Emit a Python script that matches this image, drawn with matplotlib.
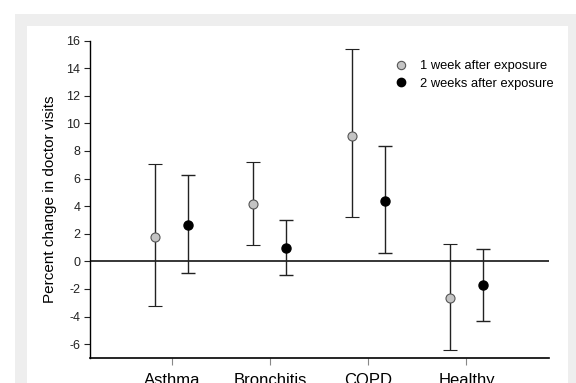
import numpy as np
import matplotlib.pyplot as plt
from matplotlib.patches import Rectangle
from matplotlib.lines import Line2D

plt.rcParams['font.family'] = ['Liberation Sans', 'DejaVu Sans']

# Data
categories = ['Asthma', 'Bronchitis', 'COPD', 'Healthy']
week1_est = [1.8, 4.18, 9.1, -2.68]
week1_lo = [-3.26, 1.16, 3.21, -6.45]
week1_hi = [7.05, 7.22, 15.39, 1.26]
week2_est = [2.66, 0.99, 4.4, -1.74]
week2_lo = [-0.85, -1.01, 0.63, -4.35]
week2_hi = [6.26, 3.0, 8.36, 0.92]
yticks = [-6, -4, -2, 0, 2, 4, 6, 8, 10, 12, 14, 16]

x = np.arange(1, len(categories) + 1)
off = 0.168

fig = plt.figure(figsize=(5.76, 3.83), dpi=100)
fig.patches.append(Rectangle((15/576, 0), 1, 1 - 14/383, transform=fig.transFigure,
                             facecolor='#eeeeee', edgecolor='none', zorder=-2))
fig.patches.append(Rectangle((27/576, 0), (568-27)/576, 1 - 26/383, transform=fig.transFigure,
                             facecolor='white', edgecolor='none', zorder=-1))

ax = fig.add_axes([90/576, 1 - 358/383, (549-90)/576, (358-40.5)/383])
ax.patch.set_visible(False)

ax.axhline(0, color='black', lw=1.1, zorder=1)

e1 = np.array(week1_est)
e2 = np.array(week2_est)
err1 = [e1 - np.array(week1_lo), np.array(week1_hi) - e1]
err2 = [e2 - np.array(week2_lo), np.array(week2_hi) - e2]

ax.errorbar(x - off, e1, yerr=err1, fmt='o', color='#222222', ecolor='#222222',
            elinewidth=1.0, capsize=5, capthick=1.0, markersize=6.5,
            markerfacecolor='#c4c4c4', markeredgecolor='#555555', markeredgewidth=0.8, zorder=3)
ax.errorbar(x + off, e2, yerr=err2, fmt='o', color='#222222', ecolor='#222222',
            elinewidth=1.0, capsize=5, capthick=1.0, markersize=6.5,
            markerfacecolor='black', markeredgecolor='black', zorder=3)

ax.set_xlim(0.168, 4.84)
ax.set_ylim(-7, 16)
ax.set_yticks(yticks)
ax.set_yticklabels([str(t) for t in yticks], fontsize=9)
ax.set_xticks(x)
ax.set_xticklabels(categories, fontsize=12)
ax.tick_params(axis='y', length=4, width=0.8, pad=3, colors='#222222')
ax.tick_params(axis='x', length=5, width=0.8, pad=6, color='#888888')

for s in ['top', 'right']:
    ax.spines[s].set_visible(False)
ax.spines['left'].set_linewidth(1.0)
ax.spines['bottom'].set_linewidth(1.2)

ax.set_ylabel('Percent change in doctor visits', fontsize=11, labelpad=7)

handles = [
    Line2D([], [], marker='o', ls='none', markersize=6, markerfacecolor='#c4c4c4',
           markeredgecolor='#555555', markeredgewidth=0.8),
    Line2D([], [], marker='o', ls='none', markersize=6, markerfacecolor='black',
           markeredgecolor='black'),
]
ax.legend(handles, ['1 week after exposure', '2 weeks after exposure'],
          loc='upper left', bbox_to_anchor=(388/576, 1 - 60/383),
          bbox_transform=fig.transFigure, frameon=False, fontsize=9.3,
          handletextpad=0.5, labelspacing=0.45, borderaxespad=0, borderpad=0)

fig.savefig('out.png', dpi=100)
